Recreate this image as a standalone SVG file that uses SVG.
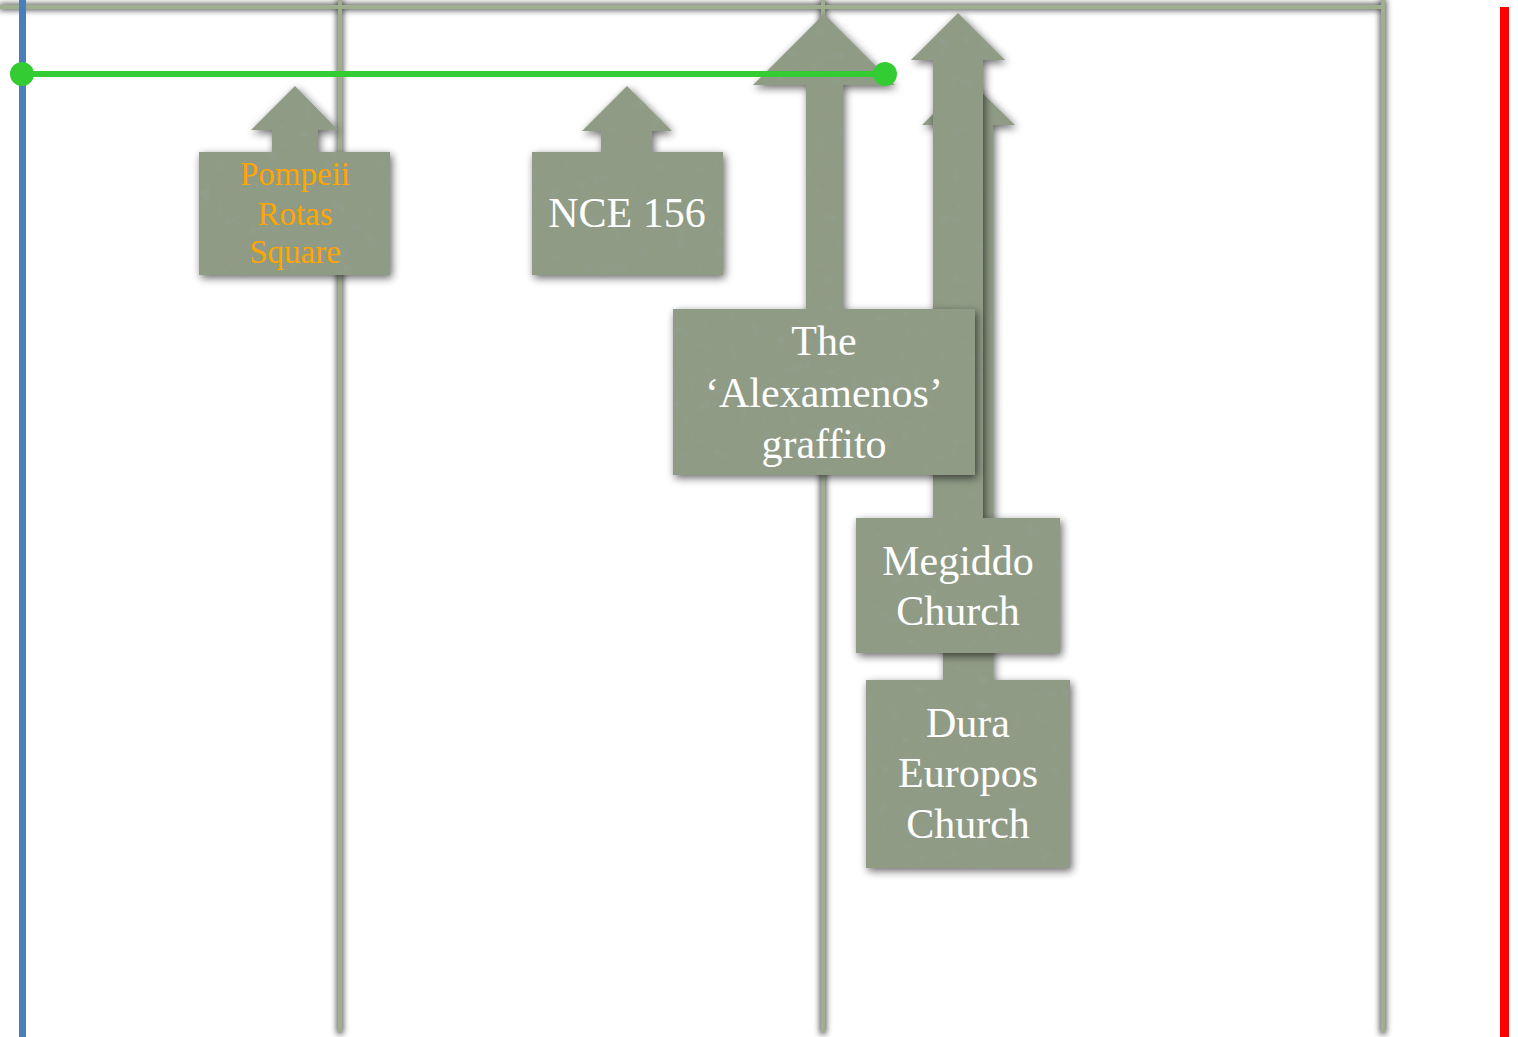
<svg xmlns="http://www.w3.org/2000/svg" width="1518" height="1037" viewBox="0 0 1518 1037">
<defs>
<filter id="lineSh" x="-50%" y="-50%" width="200%" height="200%" filterUnits="objectBoundingBox">
<feMorphology in="SourceAlpha" operator="dilate" radius="1" result="d"/>
<feGaussianBlur in="d" stdDeviation="3" result="b"/>
<feComponentTransfer in="b" result="s"><feFuncA type="linear" slope="0.75"/></feComponentTransfer>
<feMerge><feMergeNode in="s"/><feMergeNode in="SourceGraphic"/></feMerge>
</filter>
<filter id="box" x="-15%" y="-15%" width="135%" height="135%">
<feTurbulence type="fractalNoise" baseFrequency="0.08" numOctaves="3" seed="5" result="n"/>
<feColorMatrix in="n" type="matrix" values="0 0 0 0 0.28  0 0 0 0 0.34  0 0 0 0 0.26  -3.6 0 0 0 1.55" result="spots"/>
<feComposite in="spots" in2="SourceAlpha" operator="in" result="s2"/>
<feGaussianBlur in="SourceAlpha" stdDeviation="4" result="bl"/>
<feOffset in="bl" dx="2" dy="3" result="of"/>
<feComponentTransfer in="of" result="sh"><feFuncA type="linear" slope="0.6"/></feComponentTransfer>
<feMerge><feMergeNode in="sh"/><feMergeNode in="SourceGraphic"/><feMergeNode in="s2"/></feMerge>
</filter>
</defs>
<style>
.grid{stroke:#9fae8f;stroke-width:4;fill:none}
.node{fill:#8f9b85;filter:url(#box)}
.t{font-family:"Liberation Serif","DejaVu Serif",serif;fill:#ffffff;font-size:42px;text-anchor:middle}
.o{font-family:"Liberation Serif","DejaVu Serif",serif;fill:#FFA500;font-size:33px;text-anchor:middle}
</style>
<rect width="1518" height="1037" fill="#ffffff"/>
<g id="connectors">
<g filter="url(#lineSh)">
<line class="grid" x1="0" y1="7" x2="1384" y2="7"/>
<line class="grid" x1="340" y1="0" x2="340" y2="1033"/>
<line class="grid" x1="823" y1="0" x2="823" y2="1033"/>
<line class="grid" x1="1383" y1="0" x2="1383" y2="1033"/>
</g>
<line x1="22.5" y1="0" x2="22.5" y2="1037" stroke="#4a7ebb" stroke-width="7"/>
<line x1="1504.5" y1="7" x2="1504.5" y2="1037" stroke="#ff0000" stroke-width="9"/>
</g>
<g id="pompeii">
<path class="node" d="M199,152 H272 V130 H251 L295,86 L338,130 H318 V152 H390 V275 H199 Z"/>
<text class="o"><tspan x="295" y="185">Pompeii</tspan><tspan x="295" y="225">Rotas</tspan><tspan x="295" y="263">Square</tspan></text>
</g>
<g id="nce156">
<path class="node" d="M532,152 H601 V131 H582 L627,86 L672,131 H652 V152 H723 V275 H532 Z"/>
<text class="t" x="627" y="227">NCE 156</text>
</g>
<g id="dura">
<path class="node" d="M866,680 H943 V125 H922 L968,79 L1015,125 H993 V680 H1070 V868 H866 Z"/>
<text class="t"><tspan x="968" y="737">Dura</tspan><tspan x="968" y="787">Europos</tspan><tspan x="968" y="838">Church</tspan></text>
</g>
<g id="megiddo">
<path class="node" d="M856,518 H933 V60 H911 L958,13 L1005,60 H983 V518 H1060 V653 H856 Z"/>
<text class="t"><tspan x="958" y="575">Megiddo</tspan><tspan x="958" y="625">Church</tspan></text>
</g>
<g id="alexamenos">
<path class="node" d="M673,309 H806 V85 H753 L824,14 L895,85 H843 V309 H975 V475 H673 Z"/>
<text class="t"><tspan x="824" y="355">The</tspan><tspan x="824" y="407">‘Alexamenos’</tspan><tspan x="824" y="458">graffito</tspan></text>
</g>
<g id="range">
<line x1="22" y1="74" x2="885" y2="74" stroke="#33cc33" stroke-width="6"/>
<circle cx="22" cy="74" r="12" fill="#33cc33"/>
<circle cx="885" cy="74" r="12" fill="#33cc33"/>
</g>
</svg>
